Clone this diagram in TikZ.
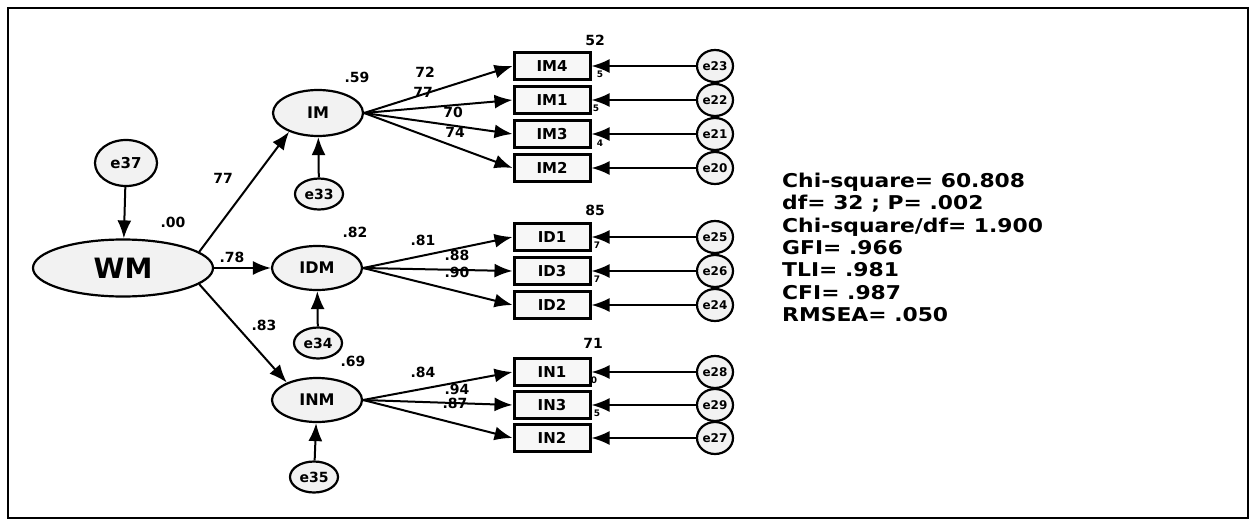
\documentclass[tikz,border=0pt]{standalone}
\usepackage{fontspec}
\setmainfont{DejaVu Sans}
\newfontfamily\widefont[FakeStretch=1.15]{DejaVu Sans}
\usetikzlibrary{shapes.geometric,arrows.meta}
\begin{document}
\begin{tikzpicture}[x=1pt,y=-1pt,
  lat/.style={ellipse,draw,line width=2.2pt,fill=gray!10,inner sep=0pt,font=\fontsize{16}{16}\selectfont\bfseries},
  errl/.style={ellipse,draw,line width=2.2pt,fill=gray!10,inner sep=0pt,minimum width=48pt,minimum height=31pt,font=\fontsize{14}{14}\selectfont\bfseries},
  errr/.style={ellipse,draw,line width=2.2pt,fill=gray!10,inner sep=0pt,minimum width=36pt,minimum height=32pt,font=\fontsize{12}{12}\selectfont\bfseries},
  obs/.style={rectangle,draw,line width=3pt,fill=gray!6,minimum width=76pt,minimum height=27pt,inner sep=0pt,font=\fontsize{15}{15}\selectfont\bfseries},
  arr/.style={line width=2pt,-{Latex[length=18pt,width=14pt]}},
  lbl/.style={font=\fontsize{14}{14}\selectfont\bfseries,inner sep=0pt},
  smalllbl/.style={font=\fontsize{9}{9}\selectfont\bfseries,inner sep=0pt}]
\useasboundingbox (0,0) rectangle (1252,522);
\draw[line width=1.5pt] (8,8) rectangle (1248,518);

% latent variables
\node[lat,minimum width=180pt,minimum height=57pt,font=\fontsize{28}{28}\selectfont\bfseries] (WM) at (123,268) {WM};
\node[lat,minimum width=62pt,minimum height=46pt,font=\fontsize{15}{15}\selectfont\bfseries] (e37) at (126,163) {e37};
\node[lat,minimum width=90pt,minimum height=46pt] (IM) at (318,113) {IM};
\node[lat,minimum width=90pt,minimum height=44pt] (IDM) at (317,268) {IDM};
\node[lat,minimum width=90pt,minimum height=44pt] (INM) at (317,400) {INM};
\node[errl] (e33) at (319,194) {e33};
\node[errl] (e34) at (318,343) {e34};
\node[errl] (e35) at (314,477) {e35};

% observed
\foreach \n/\y in {IM4/66,IM1/100,IM3/134,IM2/168,ID1/237,ID3/271,ID2/305,IN1/372,IN3/405,IN2/438}
  \node[obs] (\n) at (552,\y) {\n};
\foreach \e/\n in {e23/IM4,e22/IM1,e21/IM3,e20/IM2,e25/ID1,e26/ID3,e24/ID2,e28/IN1,e29/IN3,e27/IN2}
  \node[errr] (\e) at (715,0 |- \n) {\e};

% structural arrows
\draw[arr] (e37) -- (WM);
\draw[arr] (WM.12) -- (IM.213);
\draw[arr] (WM.east) -- (IDM.west);
\draw[arr] (WM.-12) -- (INM.150);
\draw[arr] (e33) -- (IM);
\draw[arr] (e34) -- (IDM);
\draw[arr] (e35) -- (INM);

% loadings
\foreach \n in {IM4,IM1,IM3,IM2} \draw[arr] (IM.east) -- (\n.west);
\foreach \n in {ID1,ID3,ID2} \draw[arr] (IDM.east) -- (\n.west);
\foreach \n in {IN1,IN3,IN2} \draw[arr] (INM.east) -- (\n.west);
\foreach \e/\n in {e23/IM4,e22/IM1,e21/IM3,e20/IM2,e25/ID1,e26/ID3,e24/ID2,e28/IN1,e29/IN3,e27/IN2}
  \draw[arr] (\e) -- (\n.east);

% labels
\node[lbl] (l00) at (173,222) {.00};
\node[lbl] (l59) at (357,77) {.59};
\node[lbl] (l82) at (355,232) {.82};
\node[lbl] (l69) at (353,361) {.69};
\node[lbl] (l77) at (223,178) {77};
\node[lbl] (l78) at (232,257) {.78};
\node[lbl] (l83) at (264,325) {.83};
\node[lbl] (r52) at (595,40) {52};
\node[lbl] (r85) at (595,210) {85};
\node[lbl] (r71) at (593,343) {71};
\node[lbl] (a1) at (425,72) {72};
\node[lbl] (a2) at (423,92) {77};
\node[lbl] (a3) at (453,112) {70};
\node[lbl] (a4) at (455,132) {74};
\node[lbl] (b1) at (423,240) {.81};
\node[lbl] (b2) at (457,255) {.88};
\node[lbl] (b3) at (457,272) {.90};
\node[lbl] (c1) at (423,372) {.84};
\node[lbl] (c2) at (457,389) {.94};
\node[lbl] (c3) at (455,403) {.87};
\node[smalllbl] (s1) at (600,74) {5};
\node[smalllbl] (s2) at (596,108) {5};
\node[smalllbl] (s3) at (600,143) {4};
\node[smalllbl] (s4) at (597,245) {7};
\node[smalllbl] (s5) at (597,279) {7};
\node[smalllbl] (s6) at (594,380) {0};
\node[smalllbl] (s7) at (597,413) {5};

% fit statistics
\node[anchor=north west,align=left,inner sep=0pt,font=\widefont\fontsize{19}{22.3}\selectfont\bfseries] (fit) at (782,173)
  {Chi-square= 60.808\\df= 32 ; P= .002\\Chi-square/df= 1.900\\GFI= .966\\TLI= .981\\CFI= .987\\RMSEA= .050};
\end{tikzpicture}
\end{document}
